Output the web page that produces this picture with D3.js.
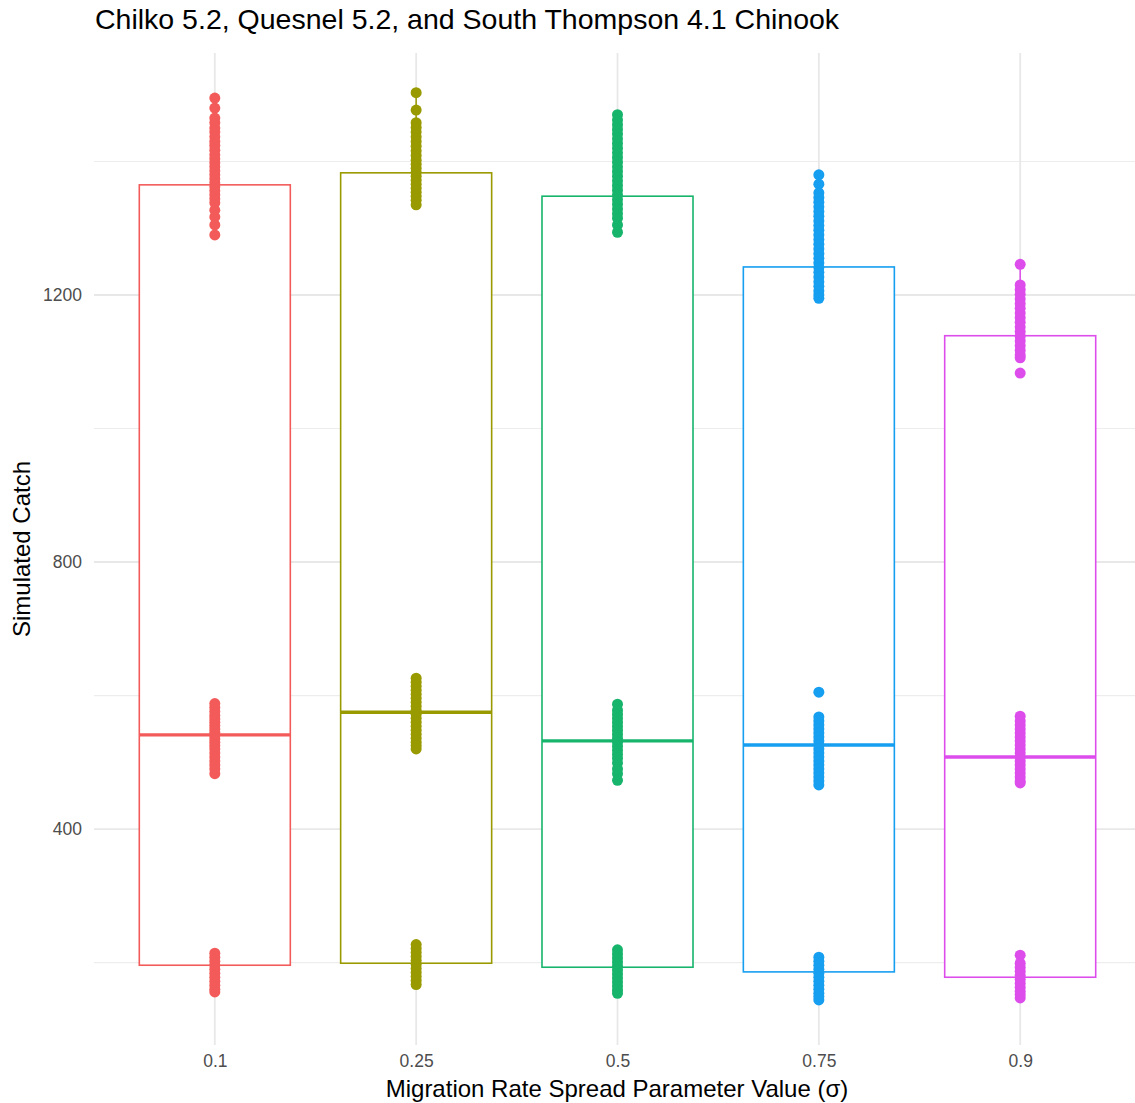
<!DOCTYPE html>
<html>
<head>
<meta charset="utf-8">
<script src="https://cdn.jsdelivr.net/npm/d3@7"></script>
<style>
  body { margin: 0; background: #fff; }
  text { font-family: "Liberation Sans", Arial, Helvetica, sans-serif; }
</style>
</head>
<body>
<div id="chart"></div>
<script>
// categories (sigma values)
const categories = ["0.1", "0.25", "0.5", "0.75", "0.9"];
const colors = ["#F35B5A", "#999A00", "#17B46C", "#169EF0", "#DD4DEC"];

// box stats
const boxLow = [156, 167, 154, 144, 147];
const boxQ1 = [196, 199, 193, 186, 178];
const boxMedian = [541, 575, 532, 526, 508];
const boxQ3 = [1365, 1383, 1348, 1242, 1139];
const boxHigh = [1495, 1503, 1470, 1380, 1246];

// simulated catch points per category
const points01 = [
  1495, 1480, 1465, 1458, 1450, 1444, 1437, 1430, 1424, 1417, 1410, 1404, 1398, 1392,
  1386, 1380, 1374, 1368, 1362, 1356, 1350, 1344, 1338, 1327, 1317, 1305, 1290,
  588, 582, 576, 570, 565, 560, 555, 550, 545, 540, 535, 530, 525, 520, 514, 508, 502, 496, 490, 483,
  214, 208, 202, 196, 190, 184, 178, 172, 166, 160, 156
];
const points025 = [
  1503, 1477, 1458, 1451, 1444, 1437, 1430, 1423, 1416, 1409, 1402, 1396, 1390, 1384,
  1378, 1372, 1366, 1360, 1354, 1348, 1342, 1335,
  626, 620, 614, 608, 602, 596, 590, 584, 578, 572, 566, 560, 554, 548, 542, 536, 530, 525, 520,
  227, 221, 215, 209, 203, 197, 191, 185, 179, 173, 167
];
const points05 = [
  1470, 1462, 1455, 1448, 1441, 1434, 1427, 1420, 1413, 1406, 1399, 1392, 1385, 1378,
  1371, 1364, 1357, 1350, 1343, 1336, 1329, 1322, 1315, 1305, 1294,
  587, 578, 572, 566, 560, 554, 548, 542, 536, 530, 524, 518, 512, 506, 499, 490, 483, 473,
  219, 213, 207, 201, 195, 189, 183, 177, 171, 165, 159, 154
];
const points075 = [
  1380, 1366, 1353, 1346, 1339, 1332, 1325, 1318, 1311, 1304, 1297, 1290, 1283, 1276,
  1269, 1262, 1255, 1248, 1241, 1234, 1227, 1220, 1213, 1206, 1200, 1195,
  605, 568, 562, 556, 550, 544, 538, 532, 526, 520, 514, 508, 502, 496, 490, 484, 478, 472, 466,
  208, 202, 196, 190, 184, 178, 172, 166, 160, 154, 149, 144
];
const points09 = [
  1246, 1215, 1208, 1201, 1194, 1187, 1180, 1173, 1166, 1159, 1152, 1145, 1138, 1131,
  1124, 1117, 1110, 1106, 1083,
  569, 562, 556, 550, 544, 538, 532, 526, 520, 514, 508, 502, 496, 490, 484, 478, 472, 469,
  211, 199, 193, 187, 181, 175, 169, 163, 157, 152, 147
];
const allPoints = [points01, points025, points05, points075, points09];

const majorTicks = [400, 800, 1200];
const minorTicks = [200, 600, 1000, 1400];

const W = 1135, H = 1103;
const panel = { left: 94, right: 1141, top: 53, bottom: 1045 };

const svg = d3.select("#chart").append("svg")
  .attr("width", W)
  .attr("height", H);

const x = d3.scalePoint()
  .domain(categories)
  .range([panel.left, panel.right])
  .padding(0.6);

const y = d3.scaleLinear()
  .domain([76.5, 1562.5])
  .range([panel.bottom, panel.top]);

const boxW = x.step() * 0.75;

// grid
const grid = svg.append("g");
grid.selectAll(".minor").data(minorTicks).enter().append("line")
  .attr("x1", panel.left).attr("x2", panel.right)
  .attr("y1", d => y(d)).attr("y2", d => y(d))
  .attr("stroke", "#EDEDED").attr("stroke-width", 1.2);
grid.selectAll(".major").data(majorTicks).enter().append("line")
  .attr("x1", panel.left).attr("x2", panel.right)
  .attr("y1", d => y(d)).attr("y2", d => y(d))
  .attr("stroke", "#E8E8E8").attr("stroke-width", 1.8);
grid.selectAll(".vmajor").data(categories).enter().append("line")
  .attr("x1", d => x(d)).attr("x2", d => x(d))
  .attr("y1", panel.top).attr("y2", panel.bottom)
  .attr("stroke", "#E8E8E8").attr("stroke-width", 1.8);

// boxplots
categories.forEach((c, i) => {
  const g = svg.append("g");
  const cx = x(c);
  g.append("line")
    .attr("x1", cx).attr("x2", cx)
    .attr("y1", y(boxHigh[i])).attr("y2", y(boxQ3[i]))
    .attr("stroke", colors[i]).attr("stroke-width", 1.5);
  g.append("line")
    .attr("x1", cx).attr("x2", cx)
    .attr("y1", y(boxQ1[i])).attr("y2", y(boxLow[i]))
    .attr("stroke", colors[i]).attr("stroke-width", 1.5);
  g.append("rect")
    .attr("x", cx - boxW / 2)
    .attr("y", y(boxQ3[i]))
    .attr("width", boxW)
    .attr("height", y(boxQ1[i]) - y(boxQ3[i]))
    .attr("fill", "#fff")
    .attr("stroke", colors[i])
    .attr("stroke-width", 1.6);
  g.append("line")
    .attr("x1", cx - boxW / 2).attr("x2", cx + boxW / 2)
    .attr("y1", y(boxMedian[i])).attr("y2", y(boxMedian[i]))
    .attr("stroke", colors[i]).attr("stroke-width", 3.4);
});

// points
categories.forEach((c, i) => {
  svg.append("g").selectAll("circle")
    .data(allPoints[i])
    .enter().append("circle")
    .attr("cx", x(c))
    .attr("cy", d => y(d))
    .attr("r", 5.5)
    .attr("fill", colors[i]);
});

// axes labels
const yAxis = d3.axisLeft(y).tickValues(majorTicks).tickFormat(d3.format("d"))
  .tickSize(0).tickPadding(12);
svg.append("g")
  .attr("transform", `translate(${panel.left},0)`)
  .call(yAxis)
  .call(g => g.select(".domain").remove())
  .selectAll("text")
  .attr("fill", "#4D4D4D")
  .style("font-size", "17.5px");

const xAxis = d3.axisBottom(x).tickSize(0).tickPadding(10);
svg.append("g")
  .attr("transform", `translate(0,${panel.bottom})`)
  .call(xAxis)
  .call(g => g.select(".domain").remove())
  .selectAll("text")
  .attr("fill", "#4D4D4D")
  .style("font-size", "17.5px");

svg.append("text")
  .attr("x", 95).attr("y", 29)
  .attr("fill", "#000")
  .style("font-size", "28.5px")
  .text("Chilko 5.2, Quesnel 5.2, and South Thompson 4.1 Chinook");

svg.append("text")
  .attr("x", 617).attr("y", 1097)
  .attr("text-anchor", "middle")
  .attr("fill", "#000")
  .style("font-size", "24px")
  .text("Migration Rate Spread Parameter Value (σ)");

svg.append("text")
  .attr("transform", `translate(30,${(panel.top + panel.bottom) / 2}) rotate(-90)`)
  .attr("text-anchor", "middle")
  .attr("fill", "#000")
  .style("font-size", "24px")
  .text("Simulated Catch");
</script>
</body>
</html>
